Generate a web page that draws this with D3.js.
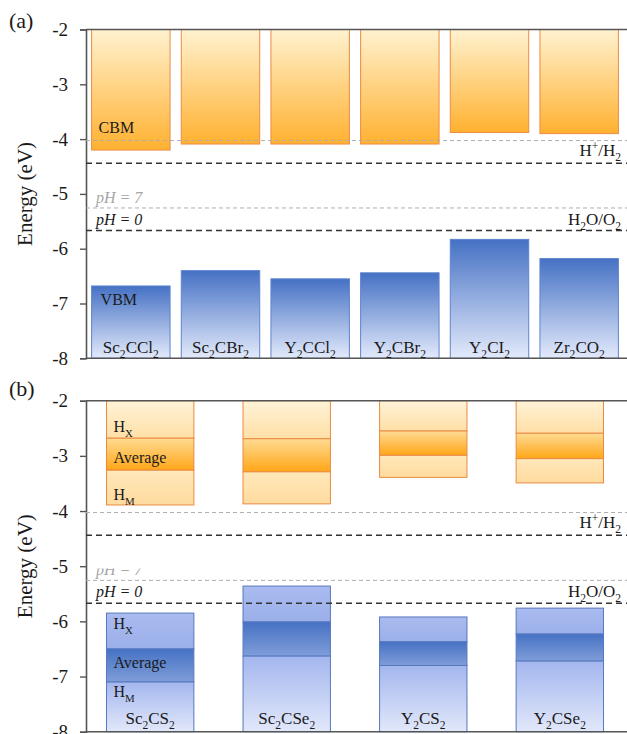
<!DOCTYPE html>
<html>
<head>
<meta charset="utf-8">
<script src="https://cdn.jsdelivr.net/npm/d3@7"></script>
<style>
  html, body { margin: 0; padding: 0; background: #fff; }
  svg { display: block; font-family: "Liberation Serif", "Times New Roman", serif; }
</style>
</head>
<body>
<svg id="chart" width="627" height="734"></svg>
<script>
// ---- data ----
const yTicks = [-2, -3, -4, -5, -6, -7, -8];

// panel (a): band edges (eV)
const catsA = ["Sc2CCl2", "Sc2CBr2", "Y2CCl2", "Y2CBr2", "Y2CI2", "Zr2CO2"];
const cbmA  = [-4.20, -4.09, -4.09, -4.09, -3.88, -3.90];
const vbmA  = [-6.68, -6.40, -6.55, -6.44, -5.83, -6.18];

// panel (b): band edges for HX / average / HM
const catsB  = ["Sc2CS2", "Sc2CSe2", "Y2CS2", "Y2CSe2"];
const cbmHX  = [-2.68, -2.69, -2.55, -2.59];
const cbmAvg = [-3.26, -3.29, -2.99, -3.05];
const cbmHM  = [-3.89, -3.87, -3.39, -3.49];
const vbmHX  = [-5.85, -5.36, -5.92, -5.76];
const vbmAvg = [-6.50, -6.01, -6.37, -6.23];
const vbmHM  = [-7.10, -6.63, -6.80, -6.72];

// water redox potentials (eV vs vacuum)
const redoxPH0 = [-4.44, -5.67];
const redoxPH7 = [-4.027, -5.257];

const svg = d3.select("#chart");
const X0 = 86, X1 = 624, XR = 627;

// ---- gradients ----
const defs = svg.append("defs");
function grad(id, c0, c1) {
  const g = defs.append("linearGradient").attr("id", id)
    .attr("x1", 0).attr("y1", 0).attr("x2", 0).attr("y2", 1);
  g.append("stop").attr("offset", "0%").attr("stop-color", c0);
  g.append("stop").attr("offset", "100%").attr("stop-color", c1);
}
grad("cbmGrad", "#FFF2D0", "#FFB130");
grad("vbmGrad", "#4571C4", "#E3EAFB");
grad("cHX", "#FFF3D8", "#FFDFA6");
grad("cAvg", "#FFDB93", "#FFA617");
grad("cHM", "#FFE8BA", "#FFDB9E");
grad("vHX", "#A9BBF0", "#9BAFE9");
grad("vAvg", "#4672C4", "#7F9DD8");
grad("vHM", "#A3B6EE", "#E2E8FA");

// ---- rich text helper: digits after letters become subscripts ----
function formulaParts(s) {
  const parts = [];
  for (const ch of s) {
    const mode = /[0-9]/.test(ch) ? "sub" : "n";
    if (parts.length && parts[parts.length - 1][1] === mode) parts[parts.length - 1][0] += ch;
    else parts.push([ch, mode]);
  }
  return parts;
}
function rich(g, x, y, parts, opts) {
  const t = g.append("text").attr("x", x).attr("y", y)
    .attr("font-size", opts.size).attr("fill", opts.fill || "#1a1a1a")
    .attr("text-anchor", opts.anchor || "start");
  let shift = 0;
  parts.forEach(([txt, mode]) => {
    const target = mode === "sub" ? opts.size * 0.3 : mode === "sup" ? -opts.size * 0.35 : 0;
    const ts = t.append("tspan").text(txt).attr("dy", target - shift);
    shift = target;
    if (mode === "sub" || mode === "sup") ts.attr("font-size", opts.size * 0.68);
    if (mode === "i") ts.attr("font-style", "italic");
  });
  return t;
}

// ---- shared panel frame ----
function frame(g, y) {
  const axis = d3.axisLeft(y).tickValues(yTicks).tickFormat(d => String(d))
    .tickSize(6).tickPadding(12);
  const ax = g.append("g").attr("transform", `translate(${X0},0)`).call(axis);
  ax.select(".domain").attr("stroke", "#555").attr("stroke-width", 1.6);
  ax.selectAll(".tick line").attr("stroke", "#555").attr("stroke-width", 1.4);
  ax.selectAll(".tick text").attr("font-size", 19).attr("fill", "#1a1a1a")
    .attr("font-family", "Liberation Serif, serif");
  [-2, -8].forEach(v => g.append("line")
    .attr("x1", X0).attr("x2", XR).attr("y1", y(v)).attr("y2", y(v))
    .attr("stroke", "#555").attr("stroke-width", 1.6));
}

function redox(g, y, labelRows, ph7Clip) {
  // pH = 7 levels (light grey)
  redoxPH7.forEach(v => g.append("line")
    .attr("x1", X0).attr("x2", XR).attr("y1", y(v)).attr("y2", y(v))
    .attr("stroke", "#AEAEAE").attr("stroke-width", 1).attr("stroke-dasharray", "4,3"));
  // pH = 0 levels (dark)
  redoxPH0.forEach(v => g.append("line")
    .attr("x1", X0).attr("x2", XR).attr("y1", y(v)).attr("y2", y(v))
    .attr("stroke", "#333").attr("stroke-width", 1.5).attr("stroke-dasharray", "6,4"));

  const p7 = rich(g, 96, y(redoxPH7[1]) - 5, [["pH", "i"], [" = 7", "i"]], { size: 16, fill: "#A6A6A6" });
  if (ph7Clip) p7.attr("clip-path", `url(#${ph7Clip})`);
  rich(g, 96, y(redoxPH0[1]) - 6, [["pH", "i"], [" = 0", "i"]], { size: 16, fill: "#1a1a1a" });

  rich(g, 621, y(redoxPH0[0]) - 7, [["H", "n"], ["+", "sup"], ["/H", "n"], ["2", "sub"]],
    { size: 17, anchor: "end" });
  rich(g, 621, y(redoxPH0[1]) - 6, [["H", "n"], ["2", "sub"], ["O/O", "n"], ["2", "sub"]],
    { size: 17, anchor: "end" });
}

// ================= panel (a) =================
const yA = d3.scaleLinear().domain([-2, -8]).range([29.5, 358.3]);
const xA = d3.scaleBand().domain(catsA).range([X0, X1]).paddingInner(0.125).paddingOuter(0.0625);
const gA = svg.append("g");

gA.selectAll("rect.cbm").data(catsA).join("rect").attr("class", "cbm")
  .attr("x", d => xA(d)).attr("width", xA.bandwidth())
  .attr("y", yA(-2)).attr("height", (d, i) => yA(cbmA[i]) - yA(-2))
  .attr("fill", "url(#cbmGrad)").attr("stroke", "#EE8B45").attr("stroke-width", 1);

gA.selectAll("rect.vbm").data(catsA).join("rect").attr("class", "vbm")
  .attr("x", d => xA(d)).attr("width", xA.bandwidth())
  .attr("y", (d, i) => yA(vbmA[i])).attr("height", (d, i) => yA(-8) - yA(vbmA[i]))
  .attr("fill", "url(#vbmGrad)").attr("stroke", "#5E84CC").attr("stroke-width", 1);

frame(gA, yA);
redox(gA, yA, true, null);

rich(gA, xA(catsA[0]) + 7, 133, [["CBM", "n"]], { size: 16 });
rich(gA, xA(catsA[0]) + 9, 305, [["VBM", "n"]], { size: 16 });
catsA.forEach(c => rich(gA, xA(c) + xA.bandwidth() / 2, 353, formulaParts(c), { size: 17, anchor: "middle" }));

gA.append("text").attr("transform", `translate(32,${yA(-5)}) rotate(-90)`)
  .attr("text-anchor", "middle").attr("font-size", 21).attr("fill", "#1a1a1a").text("Energy (eV)");
gA.append("text").attr("x", 9).attr("y", 28).attr("font-size", 22).attr("fill", "#1a1a1a").text("(a)");

// ================= panel (b) =================
const yB = d3.scaleLinear().domain([-2, -8]).range([400.7, 731.7]);
const xB = d3.scaleBand().domain(catsB).range([X0, X1]).paddingInner(0.36).paddingOuter(0.15);
const gB = svg.append("g");

const cbmLayers = [
  { top: () => -2, bot: i => cbmHX[i], fill: "url(#cHX)" },
  { top: i => cbmHX[i], bot: i => cbmAvg[i], fill: "url(#cAvg)" },
  { top: i => cbmAvg[i], bot: i => cbmHM[i], fill: "url(#cHM)" }
];
const vbmLayers = [
  { top: i => vbmHX[i], bot: i => vbmAvg[i], fill: "url(#vHX)" },
  { top: i => vbmAvg[i], bot: i => vbmHM[i], fill: "url(#vAvg)" },
  { top: i => vbmHM[i], bot: () => -8, fill: "url(#vHM)" }
];
catsB.forEach((c, i) => {
  cbmLayers.forEach(L => gB.append("rect")
    .attr("x", xB(c)).attr("width", xB.bandwidth())
    .attr("y", yB(L.top(i))).attr("height", yB(L.bot(i)) - yB(L.top(i)))
    .attr("fill", L.fill).attr("stroke", "#EA8A42").attr("stroke-width", 1));
  vbmLayers.forEach(L => gB.append("rect")
    .attr("x", xB(c)).attr("width", xB.bandwidth())
    .attr("y", yB(L.top(i))).attr("height", yB(L.bot(i)) - yB(L.top(i)))
    .attr("fill", L.fill).attr("stroke", "#5878BE").attr("stroke-width", 1));
});

frame(gB, yB);
defs.append("clipPath").attr("id", "ph7clipB").append("rect")
  .attr("x", 0).attr("y", yB(redoxPH7[1]) - 12).attr("width", 627).attr("height", 20);
redox(gB, yB, true, "ph7clipB");

const bx = xB(catsB[0]) + 7;
rich(gB, bx, 432, [["H", "n"], ["X", "sub"]], { size: 16 });
rich(gB, bx, 463, [["Average", "n"]], { size: 16 });
rich(gB, bx, 500, [["H", "n"], ["M", "sub"]], { size: 16 });
rich(gB, bx, 629, [["H", "n"], ["X", "sub"]], { size: 16 });
rich(gB, bx, 668, [["Average", "n"]], { size: 16 });
rich(gB, bx, 697, [["H", "n"], ["M", "sub"]], { size: 16 });
catsB.forEach(c => rich(gB, xB(c) + xB.bandwidth() / 2, 724, formulaParts(c), { size: 17, anchor: "middle" }));

gB.append("text").attr("transform", `translate(32,${yB(-5)}) rotate(-90)`)
  .attr("text-anchor", "middle").attr("font-size", 21).attr("fill", "#1a1a1a").text("Energy (eV)");
gB.append("text").attr("x", 9).attr("y", 396).attr("font-size", 22).attr("fill", "#1a1a1a").text("(b)");
</script>
</body>
</html>
